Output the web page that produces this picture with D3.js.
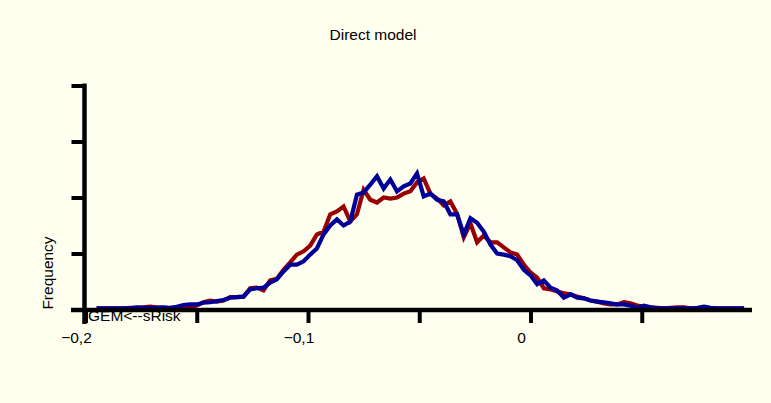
<!DOCTYPE html>
<html>
<head>
<meta charset="utf-8">
<script src="https://cdn.jsdelivr.net/npm/d3@7"></script>
<style>
  html, body { margin: 0; padding: 0; background: #FFFFF0; }
  svg { display: block; font-family: "Liberation Sans", Arial, sans-serif; }
</style>
</head>
<body>
<div id="root"></div>
<script>
// bins (frequency polygon), step 0.003 starting at -0.195
var binStart = -0.195;
var binStep = 0.003;

// blue series
var blueFreq = [2, 2, 2, 2, 2, 2, 4, 3, 3, 3,
    4, 3, 5, 8, 9, 9, 12, 13, 15, 17,
    21, 22, 23, 36, 38, 39, 48, 54, 68, 80,
    80, 86, 98, 109, 134, 150, 161, 150, 157, 205,
    209, 223, 238, 216, 232, 211, 220, 225, 243, 202,
    207, 196, 193, 170, 170, 134, 163, 155, 139, 116,
    100, 98, 95, 88, 71, 61, 45, 52, 39, 34,
    21, 27, 21, 20, 16, 14, 13, 11, 9, 9,
    7, 3, 7, 4, 2, 2, 2, 2, 2, 2,
    3, 5, 3, 2, 2, 2, 2, 2];

// red series
var redFreq = [2, 2, 2, 2, 2, 3, 3, 4, 5, 4,
    3, 1, 1, 3, 5, 7, 13, 16, 14, 16,
    22, 22, 23, 38, 39, 34, 52, 55, 71, 84,
    98, 104, 114, 134, 139, 170, 175, 184, 157, 170,
    214, 196, 191, 200, 198, 200, 207, 211, 227, 234,
    207, 198, 186, 193, 171, 129, 154, 120, 132, 120,
    120, 111, 102, 98, 80, 66, 57, 38, 36, 32,
    29, 27, 23, 20, 16, 14, 11, 9, 9, 13,
    11, 7, 5, 4, 3, 2, 3, 4, 4, 2,
    2, 2, 2, 2, 2, 2, 2, 2];

var xLabelTicks = [-0.2, -0.1, 0];
var xMinorTicks = [-0.15, -0.05, 0.05];
var yTicks = [0, 100, 200, 300, 400];

var width = 771, height = 403;

var svg = d3.select("#root")
    .append("svg")
    .attr("width", width)
    .attr("height", height);

svg.append("rect")
    .attr("width", width)
    .attr("height", height)
    .attr("fill", "#FFFFF0");

var x = d3.scaleLinear()
    .domain([-0.2, 0.1])
    .range([85.5, 753]);

var y = d3.scaleLinear()
    .domain([0, 400])
    .range([309.5, 85.5]);

// title
svg.append("text")
    .attr("x", 373)
    .attr("y", 40)
    .attr("text-anchor", "middle")
    .style("font-size", "15.5px")
    .text("Direct model");

// y axis label
svg.append("text")
    .attr("transform", "translate(53," + 273 + ") rotate(-90)")
    .attr("text-anchor", "middle")
    .style("font-size", "15.5px")
    .text("Frequency");

var toPoints = (arr) => arr.map((v, i) => [binStart + i * binStep, v]);

var line = d3.line()
    .x((d) => { return x(d[0]); })
    .y((d) => { return y(d[1]); });

// red first, blue on top
svg.append("path")
    .datum(toPoints(redFreq))
    .attr("fill", "none")
    .attr("stroke", "#990000")
    .attr("stroke-width", 4.2)
    .attr("d", line);

svg.append("path")
    .datum(toPoints(blueFreq))
    .attr("fill", "none")
    .attr("stroke", "#000099")
    .attr("stroke-width", 4.2)
    .attr("d", line);

// x axis
var xAxis = svg.append("g")
    .attr("transform", "translate(0," + 310 + ")")
    .call(d3.axisBottom(x)
        .tickValues(xLabelTicks.concat(xMinorTicks))
        .tickSize(13)
        .tickSizeOuter(0)
        .tickFormat(""));
xAxis.select(".domain").remove();
xAxis.selectAll(".tick line")
    .attr("stroke", "#000")
    .attr("stroke-width", 4);
xAxis.append("line")
    .attr("x1", 71).attr("x2", 752)
    .attr("stroke", "#000")
    .attr("stroke-width", 4.5);

svg.append("g")
    .selectAll("text")
    .data(xLabelTicks)
    .join("text")
    .attr("x", (d) => x(d) - 9)
    .attr("y", 343)
    .attr("text-anchor", "middle")
    .style("font-size", "15.5px")
    .text((d) => d3.format(".1f")(d).replace(".", ",").replace("0,0", "0"));

// y axis
var yAxis = svg.append("g")
    .attr("transform", "translate(" + 84.5 + ",0)")
    .call(d3.axisLeft(y)
        .tickValues(yTicks)
        .tickSize(13)
        .tickSizeOuter(0)
        .tickFormat(""));
yAxis.select(".domain").remove();
yAxis.selectAll(".tick line")
    .attr("stroke", "#000")
    .attr("stroke-width", 4);
yAxis.append("line")
    .attr("y1", 83.5).attr("y2", 324)
    .attr("stroke", "#000")
    .attr("stroke-width", 4.5);

// series name drawn over the axis
svg.append("text")
    .attr("x", 88)
    .attr("y", 321)
    .style("font-size", "15.5px")
    .text("GEM<--sRisk");
</script>
</body>
</html>
